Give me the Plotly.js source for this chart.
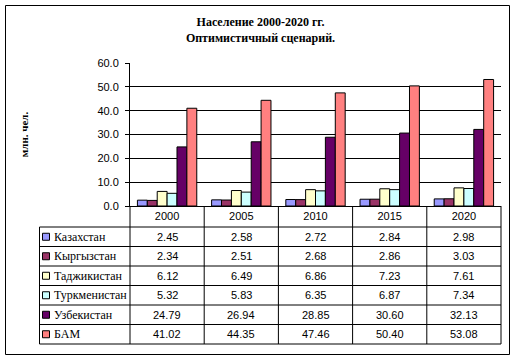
<!DOCTYPE html>
<html>
<head>
<meta charset="utf-8">
<script src="https://cdn.plot.ly/plotly-3.0.1.min.js"></script>
<style>html,body{margin:0;padding:0;background:#fff;}#chart{width:517px;height:361px;}</style>
</head>
<body>
<div id="chart"></div>
<script>
const categories = ['2000', '2005', '2010', '2015', '2020'];
const seriesNames = ['Казахстан', 'Кыргызстан', 'Таджикистан', 'Туркменистан', 'Узбекистан', 'БАМ'];
const kazakhstan   = [2.45, 2.58, 2.72, 2.84, 2.98];
const kyrgyzstan   = [2.34, 2.51, 2.68, 2.86, 3.03];
const tajikistan   = [6.12, 6.49, 6.86, 7.23, 7.61];
const turkmenistan = [5.32, 5.83, 6.35, 6.87, 7.34];
const uzbekistan   = [24.79, 26.94, 28.85, 30.60, 32.13];
const bam          = [41.02, 44.35, 47.46, 50.40, 53.08];
const seriesValues = [kazakhstan, kyrgyzstan, tajikistan, turkmenistan, uzbekistan, bam];
const seriesColors = ['#9999FF', '#993366', '#FFFFCC', '#CCFFFF', '#660066', '#FF8080'];
const yTicks = [0, 10, 20, 30, 40, 50, 60];

const SERIF = 'Liberation Serif, Times New Roman, serif';
const SANS = 'Liberation Sans, Arial, sans-serif';

// layout geometry (pixels)
const W = 517, H = 361;
const mL = 130, mR = 16, mT = 63, mB = 155;
const plotW = W - mL - mR, plotH = H - mT - mB;
const px2x = p => (p - mL) / plotW;
const py2y = p => (H - mB - p) / plotH;
const cat2x = i => (i + 0.5) / categories.length;   // category centre in paper units (range -0.5..n-0.5)

const headerBottom = 227, rowH = 19.5, tableLeft = 39.5;
const axisY = H - mB;

const traces = seriesNames.map((n, k) => ({
  type: 'bar',
  name: n,
  x: categories,
  y: seriesValues[k],
  marker: {color: seriesColors[k], line: {color: '#000', width: 1}},
  hoverinfo: 'skip'
}));

const shapes = [];
const annotations = [];
const lineStyle = {color: '#000', width: 1};
// outer chart border
shapes.push({type: 'rect', xref: 'paper', yref: 'paper', x0: px2x(5.5), x1: px2x(509.5), y0: py2y(5.5), y1: py2y(354.5), line: lineStyle, layer: 'below'});
// horizontal table lines
const tableBottom = headerBottom + rowH * seriesNames.length;
for (let r = 0; r <= seriesNames.length; r++) {
  const yy = headerBottom + r * rowH;
  shapes.push({type: 'line', xref: 'paper', yref: 'paper', x0: px2x(tableLeft), x1: 1, y0: py2y(yy), y1: py2y(yy), line: lineStyle});
}
// vertical table lines
shapes.push({type: 'line', xref: 'paper', yref: 'paper', x0: px2x(tableLeft), x1: px2x(tableLeft), y0: py2y(headerBottom), y1: py2y(tableBottom), line: lineStyle});
for (let i = 0; i <= categories.length; i++) {
  const xx = i / categories.length;
  shapes.push({type: 'line', xref: 'paper', yref: 'paper', x0: xx, x1: xx, y0: py2y(axisY), y1: py2y(tableBottom), line: lineStyle});
}
// legend keys, names and values
seriesNames.forEach((n, r) => {
  const cy = headerBottom + r * rowH + rowH / 2;
  shapes.push({type: 'rect', xref: 'paper', yref: 'paper', x0: px2x(42.5), x1: px2x(49.5), y0: py2y(cy - 3.5), y1: py2y(cy + 3.5), fillcolor: seriesColors[r], line: lineStyle});
  annotations.push({xref: 'paper', yref: 'paper', x: px2x(52), y: py2y(cy), xanchor: 'left', yanchor: 'middle', showarrow: false, text: n, font: {family: SERIF, size: 12, color: '#000'}});
  categories.forEach((c, i) => {
    annotations.push({xref: 'paper', yref: 'paper', x: cat2x(i), y: py2y(cy), xanchor: 'center', yanchor: 'middle', showarrow: false, text: seriesValues[r][i].toFixed(2), font: {family: SANS, size: 11, color: '#000'}});
  });
});

const layout = {
  width: W, height: H,
  margin: {l: mL, r: mR, t: mT, b: mB, pad: 0},
  paper_bgcolor: '#fff', plot_bgcolor: '#fff',
  showlegend: false,
  barmode: 'group', bargap: 0.2, bargroupgap: 0,
  title: {
    text: '<b>Население 2000-2020 гг.</b><br><b>Оптимистичный сценарий.</b>',
    font: {family: SERIF, size: 12, color: '#000'},
    x: 260.5 / W, xanchor: 'center', xref: 'container',
    y: 1 - 26 / H, yanchor: 'middle', yref: 'container'
  },
  xaxis: {
    type: 'category', range: [-0.5, categories.length - 0.5],
    showline: true, linecolor: '#000', linewidth: 1,
    ticks: '', showgrid: false, zeroline: false,
    tickfont: {family: SANS, size: 11, color: '#000'},
    ticklabelstandoff: 0, fixedrange: true
  },
  yaxis: {
    range: [0, 60], tickvals: yTicks, tickformat: '.1f',
    showline: true, linecolor: '#000', linewidth: 1,
    ticks: 'outside', ticklen: 4, tickcolor: '#000', tickwidth: 1,
    showgrid: true, gridcolor: '#000', gridwidth: 1, zeroline: false,
    tickfont: {family: SANS, size: 11, color: '#000'},
    ticklabelstandoff: 4,
    title: {text: '<b>млн. чел.</b>', font: {family: SERIF, size: 11, color: '#000'}, standoff: 66},
    fixedrange: true
  },
  shapes: shapes,
  annotations: annotations
};

Plotly.newPlot('chart', traces, layout, {staticPlot: true, displayModeBar: false});
</script>
</body>
</html>
